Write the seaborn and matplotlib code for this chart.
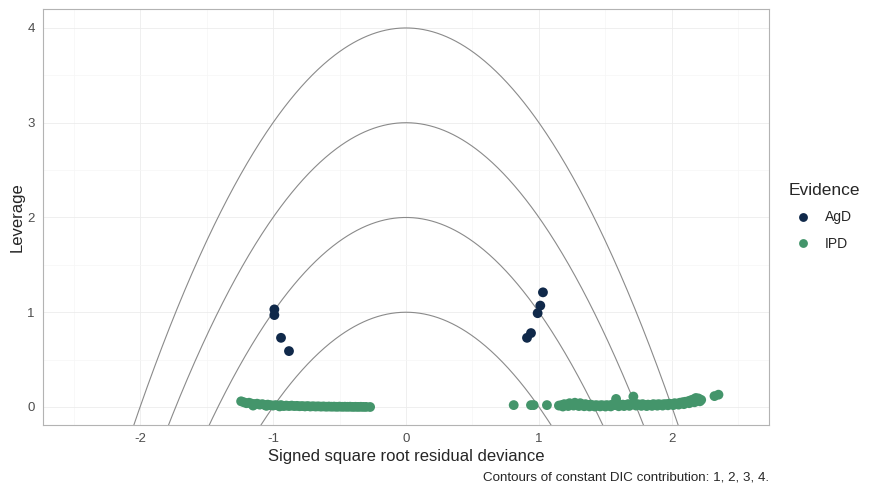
import numpy as np
import pandas as pd
import matplotlib
matplotlib.use("Agg")
import matplotlib.pyplot as plt
import seaborn as sns

# AgD points
agd_x = [-0.99, -0.99, -0.94, -0.88, 1.03, 1.01, 0.99, 0.94, 0.91]
agd_y = [1.03, 0.97, 0.73, 0.59, 1.21, 1.07, 0.99, 0.78, 0.73]

# IPD points, left cluster
ipd_left_x = [-1.24, -1.22, -1.20, -1.18, -1.16, -1.15, -1.14, -1.12, -1.10, -1.08,
              -1.06, -1.05, -1.04, -1.02, -1.00, -0.98, -0.96, -0.95, -0.94, -0.92,
              -0.90, -0.88, -0.86, -0.84, -0.82, -0.80, -0.78, -0.76, -0.74, -0.72,
              -0.70, -0.68, -0.66, -0.64, -0.62, -0.60, -0.58, -0.56, -0.54, -0.52,
              -0.50, -0.48, -0.46, -0.44, -0.42, -0.40, -0.38, -0.36, -0.34, -0.32,
              -0.30, -0.27]
ipd_left_y = [0.06, 0.05, 0.04, 0.045, 0.035, 0.015, 0.03, 0.035, 0.025, 0.03,
              0.02, 0.012, 0.025, 0.02, 0.015, 0.02, 0.015, 0.006, 0.02, 0.01,
              0.015, 0.01, 0.015, 0.01, 0.012, 0.008, 0.01, 0.006, 0.01, 0.005,
              0.008, 0.005, 0.007, 0.004, 0.006, 0.003, 0.005, 0.003, 0.004, 0.002,
              0.004, 0.002, 0.003, 0.002, 0.003, 0.001, 0.002, 0.001, 0.002, 0.001,
              0.001, 0.0]

# IPD points, right cluster
ipd_right_x = [0.81, 0.94, 0.96, 1.06, 1.15, 1.17, 1.19, 1.21, 1.23, 1.25,
               1.27, 1.29, 1.31, 1.33, 1.35, 1.37, 1.39, 1.41, 1.43, 1.45,
               1.47, 1.49, 1.51, 1.53, 1.55, 1.57, 1.58, 1.59, 1.61, 1.63,
               1.65, 1.67, 1.69, 1.71, 1.72, 1.74, 1.76, 1.78, 1.80, 1.82,
               1.84, 1.86, 1.88, 1.90, 1.92, 1.94, 1.96, 1.98, 2.00, 2.02,
               2.04, 2.06, 2.08, 2.10, 2.12, 2.14, 2.16, 2.18, 2.20, 2.22,
               2.32, 2.35,
               1.18, 1.22, 1.26, 1.30, 1.34, 1.38, 1.42, 1.46, 1.50, 1.54,
               1.60, 1.64, 1.68, 1.73, 1.77, 1.81, 1.85, 1.89, 1.93, 1.97,
               2.01, 2.05, 2.09, 2.13, 2.17, 2.21]
ipd_right_y = [0.02, 0.02, 0.02, 0.02, 0.015, 0.02, 0.03, 0.025, 0.04, 0.03,
               0.045, 0.03, 0.04, 0.025, 0.03, 0.02, 0.025, 0.015, 0.02, 0.015,
               0.02, 0.015, 0.02, 0.015, 0.025, 0.02, 0.085, 0.03, 0.02, 0.025,
               0.02, 0.03, 0.025, 0.11, 0.035, 0.03, 0.025, 0.03, 0.02, 0.025,
               0.02, 0.03, 0.025, 0.03, 0.025, 0.03, 0.03, 0.035, 0.03, 0.04,
               0.035, 0.045, 0.05, 0.055, 0.06, 0.07, 0.08, 0.095, 0.09, 0.075,
               0.115, 0.13,
               0.005, 0.01, 0.015, 0.01, 0.008, 0.006, 0.005, 0.006, 0.005, 0.006,
               0.008, 0.01, 0.012, 0.015, 0.012, 0.01, 0.012, 0.014, 0.015, 0.018,
               0.02, 0.025, 0.03, 0.04, 0.05, 0.06]

dic_levels = [1, 2, 3, 4]

ipd_x = ipd_left_x + ipd_right_x
ipd_y = ipd_left_y + ipd_right_y
df = pd.DataFrame({
    "x": agd_x + ipd_x,
    "y": agd_y + ipd_y,
    "Evidence": ["AgD"] * len(agd_x) + ["IPD"] * len(ipd_x),
})

# contour curves: leverage = DIC - resdev
xs = np.linspace(-2.1, 2.1, 600)
contours = pd.concat([
    pd.DataFrame({"x": xs, "y": c - xs ** 2, "level": c}) for c in dic_levels
])
contours = contours[contours["y"] > -0.3]

sns.set_style("white")
plt.rcParams["font.family"] = ["Liberation Sans", "DejaVu Sans"]
plt.rcParams["axes.unicode_minus"] = False

fig = plt.figure(figsize=(8.8, 4.95), dpi=100)
ax = fig.add_axes([43 / 880, 1 - 425 / 495, (769 - 43) / 880, (425 - 9) / 495])

for c in dic_levels:
    sub = contours[contours["level"] == c]
    ax.plot(sub["x"], sub["y"], color="#8a8a8a", lw=0.8, zorder=2)

sns.scatterplot(data=df, x="x", y="y", hue="Evidence",
                palette={"AgD": "#10294a", "IPD": "#44956b"},
                s=50, linewidth=0, ax=ax, zorder=3)

ax.set_xlim(-2.73, 2.73)
ax.set_ylim(-0.19, 4.2)
ax.set_xticks([-2, -1, 0, 1, 2])
ax.set_yticks([0, 1, 2, 3, 4])
ax.set_xticks([-2.5, -1.5, -0.5, 0.5, 1.5, 2.5], minor=True)
ax.set_yticks([0.5, 1.5, 2.5, 3.5], minor=True)
ax.grid(which="major", color="#ececec", lw=0.6, zorder=0)
ax.grid(which="minor", color="#f6f6f6", lw=0.5, zorder=0)
ax.set_axisbelow(True)
for s in ax.spines.values():
    s.set_color("#b3b3b3")
    s.set_linewidth(0.8)
ax.tick_params(which="major", length=3, color="#b3b3b3", labelsize=9.5,
               labelcolor="#4d4d4d", pad=3)
ax.tick_params(which="minor", length=0)

ax.set_xlabel("Signed square root residual deviance", fontsize=12, labelpad=3)
ax.set_ylabel("Leverage", fontsize=12, labelpad=2)

leg = ax.legend(title="Evidence", loc="center left", bbox_to_anchor=(1.01, 0.5),
                frameon=False, fontsize=10, title_fontsize=12.5,
                handletextpad=0.6, labelspacing=0.9, markerscale=0.9)
leg._legend_box.align = "left"

fig.text(769 / 880, 1 - 480 / 495, "Contours of constant DIC contribution: 1, 2, 3, 4.",
         ha="right", va="baseline", fontsize=9.6)

fig.savefig("out.png", dpi=100)
